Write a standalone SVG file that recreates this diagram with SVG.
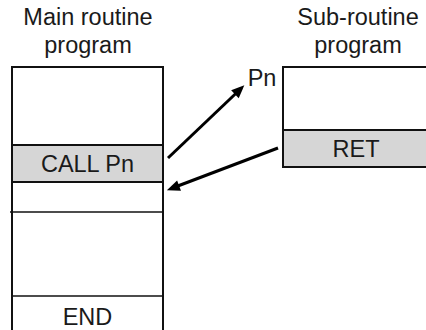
<svg xmlns="http://www.w3.org/2000/svg" width="426" height="330" viewBox="0 0 426 330">
<style>
  .t { font-family: "Liberation Sans", Arial, sans-serif; font-size: 23.5px; fill: #1a1a1a; text-anchor: middle; }
  .box { fill: #ffffff; stroke: #111111; stroke-width: 2; }
  .row { fill: #d6d6d6; stroke: #111111; stroke-width: 2; }
  .sep { stroke: #111111; stroke-width: 1.5; fill: none; }
  .arrow { stroke: #000000; stroke-width: 3; fill: none; marker-end: url(#ah); }
</style>
<defs>
  <marker id="ah" markerUnits="userSpaceOnUse" markerWidth="13" markerHeight="11" refX="7" refY="5.5" orient="auto" overflow="visible">
    <path d="M0,0 L13,5.5 L0,11 z" fill="#000000"/>
  </marker>
</defs>
<rect width="426" height="330" fill="#ffffff"/>

<g id="main-title">
  <text class="t" x="88" y="25">Main routine</text>
  <text class="t" x="88" y="53">program</text>
</g>
<g id="sub-title">
  <text class="t" x="358" y="25">Sub-routine</text>
  <text class="t" x="358" y="53">program</text>
</g>

<g id="main-program">
  <rect class="box" x="12" y="67" width="151" height="280"/>
  <rect class="row" x="12" y="145" width="151" height="37"/>
  <text class="t" x="87.5" y="172">CALL Pn</text>
  <line class="sep" x1="10" y1="212" x2="163" y2="212"/>
  <line class="sep" x1="12" y1="296" x2="163" y2="296"/>
  <text class="t" x="87.5" y="325">END</text>
</g>

<g id="sub-program">
  <rect class="box" x="283" y="67" width="160" height="100"/>
  <rect class="row" x="283" y="130" width="160" height="37"/>
  <text class="t" x="356" y="157">RET</text>
  <text class="t" x="262" y="86">Pn</text>
</g>

<g id="connectors">
  <line class="arrow" x1="168" y1="158" x2="240" y2="89.5"/>
  <line class="arrow" x1="278" y1="148" x2="172.5" y2="188"/>
</g>
</svg>
